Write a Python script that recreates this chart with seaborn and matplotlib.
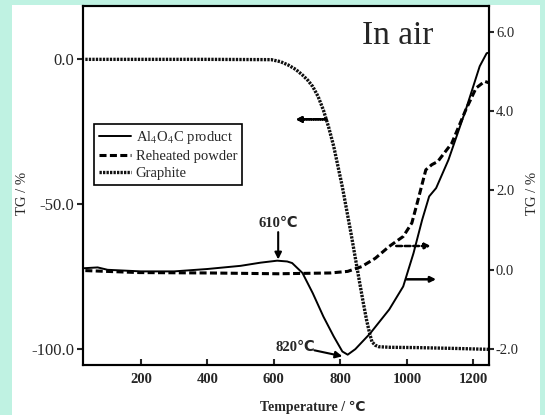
import matplotlib
matplotlib.use("Agg")
import matplotlib.pyplot as plt
import seaborn as sns
import pandas as pd
from matplotlib.patches import Rectangle
from matplotlib.ticker import FixedLocator, FixedFormatter

# ---------------- data ----------------
temp_graphite = [33, 200, 400, 592, 620, 644, 666, 686, 702, 717, 733, 749, 765, 780,
                 793, 806, 819, 832, 845, 858, 869, 879, 888, 895, 905, 916, 950, 1031, 1150, 1245]
tg_graphite = [0.0, 0.0, 0.0, -0.1, -0.8, -2.0, -3.5, -5.4, -7.2, -9.4, -12.8, -17.5, -23.5, -30.0,
               -37.0, -44.0, -52.0, -60.0, -68.5, -77.0, -84.0, -90.0, -94.5, -97.4, -98.6, -99.1, -99.3, -99.4, -99.7, -100.0]

temp_product = [30, 70, 100, 200, 300, 400, 500, 560, 610, 640, 655, 686, 717, 749, 780, 806, 822,
                845, 890, 947, 989, 1020, 1046, 1067, 1088, 1125, 1177, 1219, 1240, 1250]
tg_product = [0.04, 0.06, 0.0, -0.04, -0.04, 0.02, 0.1, 0.18, 0.23, 0.21, 0.17, -0.08, -0.59, -1.18, -1.68, -2.06, -2.14,
              -2.0, -1.6, -1.0, -0.42, 0.42, 1.26, 1.85, 2.06, 2.77, 4.03, 5.13, 5.46, 5.48]

temp_reheated = [33, 195, 404, 613, 770, 822, 864, 905, 947, 989, 1015, 1031, 1057, 1075, 1093,
                 1135, 1177, 1208, 1234, 1248]
tg_reheated = [-0.02, -0.07, -0.08, -0.1, -0.08, -0.04, 0.08, 0.29, 0.59, 0.84, 1.18, 1.68, 2.52, 2.65, 2.73,
               3.19, 4.03, 4.58, 4.75, 4.71]

x_ticks = [200, 400, 600, 800, 1000, 1200]
left_ticks = [0.0, -50.0, -100.0]
left_labels = ["0.0", "-50.0", "-100.0"]
right_ticks = [6.0, 4.0, 2.0, 0.0, -2.0]
right_labels = ["6.0", "4.0", "2.0", "0.0", "-2.0"]

series_names = [r"Al$_4$O$_4$C product", "Reheated powder", "Graphite"]

# ---------------- style ----------------
sns.set_style("ticks")
plt.rcParams["font.family"] = ["Liberation Serif", "DejaVu Sans"]
plt.rcParams["mathtext.fontset"] = "stix"
plt.rcParams["axes.unicode_minus"] = False

W, H = 545, 415
fig = plt.figure(figsize=(W / 100, H / 100), dpi=100, facecolor="#bff2e2")
fig.patches.append(Rectangle((12 / W, 0), (540 - 12) / W, (H - 5) / H, transform=fig.transFigure,
                             facecolor="white", edgecolor="none", zorder=-10))

L, R, B, T = 83, 489, 365, 6
ax = fig.add_axes([L / W, 1 - B / H, (R - L) / W, (B - T) / H])
ax.set_facecolor("white")
ax2 = ax.twinx()

df_g = pd.DataFrame({"T": temp_graphite, "TG": tg_graphite})
df_p = pd.DataFrame({"T": temp_product, "TG": tg_product})
df_r = pd.DataFrame({"T": temp_reheated, "TG": tg_reheated})

sns.lineplot(data=df_g, x="T", y="TG", ax=ax, color="#111111", lw=2.4,
             linestyle=(0, (0.7, 0.35)), label=series_names[2], legend=False, sort=False)
sns.lineplot(data=df_p, x="T", y="TG", ax=ax2, color="black", lw=1.4,
             label=series_names[0], legend=False, sort=False)
sns.lineplot(data=df_r, x="T", y="TG", ax=ax2, color="black", lw=2.2,
             linestyle=(0, (2.3, 1.1)), label=series_names[1], legend=False, sort=False)

ax.set_xlim(26, 1247)
ax.set_ylim(-105.4, 18.4)
ax2.set_ylim(-2.40, 6.65)

ax.xaxis.set_major_locator(FixedLocator(x_ticks))
ax.set_xticklabels([str(v) for v in x_ticks], fontsize=10.5, fontweight="bold")
ax.yaxis.set_major_locator(FixedLocator(left_ticks))
ax.yaxis.set_major_formatter(FixedFormatter(left_labels))
ax2.yaxis.set_major_locator(FixedLocator(right_ticks))
ax2.yaxis.set_major_formatter(FixedFormatter(right_labels))

ax.tick_params(axis="x", direction="in", length=4, width=1.5, pad=5.5, top=False)
ax.tick_params(axis="y", direction="out", length=4, width=1.5, pad=2.5, labelsize=12)
ax2.tick_params(axis="y", direction="out", length=3.5, width=1.5, pad=1.5, labelsize=10.5)
for a in (ax, ax2):
    for s in a.spines.values():
        s.set_linewidth(1.5)
        s.set_color("black")
        s.set_visible(True)
ax.set_xlabel("")
ax.set_ylabel("")
ax2.set_ylabel("")

fig.text(313 / W, 1 - 407 / H, "Temperature / ℃", ha="center", va="center",
         fontsize=10, fontweight="bold")
fig.text(22.6 / W, 1 - 193 / H, "TG / %", ha="center", va="center", rotation=90, fontsize=10.5)
fig.text(532 / W, 1 - 193 / H, "TG / %", ha="center", va="center", rotation=90, fontsize=10.5)

# legend
h1, l1 = ax2.get_legend_handles_labels()
h0, l0 = ax.get_legend_handles_labels()
leg = ax2.legend(h1 + h0, l1 + l0, loc="upper left", bbox_to_anchor=(0.027, 0.671),
                 fontsize=10.5, frameon=True, fancybox=False, edgecolor="black",
                 handlelength=2.2, handletextpad=0.3, borderpad=0.35, labelspacing=0.25,
                 borderaxespad=0)
leg.get_frame().set_linewidth(1.2)
leg.get_frame().set_facecolor("white")
leg.get_frame().set_alpha(1)

# annotations
ax2.text(973, 5.9, "In air", fontsize=24, ha="center", va="center")
ax2.text(613, 1.16, "610℃", ha="center", va="center", fontsize=10.5, fontweight="bold")
ax2.annotate("", xy=(613, 0.26), xytext=(613, 0.95),
             arrowprops=dict(arrowstyle="-|>", color="black", lw=1.5, mutation_scale=10,
                             shrinkA=0, shrinkB=0))
ax2.text(665, -1.97, "820℃", ha="center", va="center", fontsize=10.5, fontweight="bold")
ax2.annotate("", xy=(806, -2.18), xytext=(722, -2.03),
             arrowprops=dict(arrowstyle="-|>", color="black", lw=1.5, mutation_scale=10,
                             shrinkA=0, shrinkB=0))
ax.annotate("", xy=(665, -20.7), xytext=(759, -20.7),
            arrowprops=dict(arrowstyle="-|>", color="black", lw=1.8, linestyle=(0, (0.6, 0.3)),
                            mutation_scale=8, shrinkA=0, shrinkB=0))
ax2.annotate("", xy=(1072, 0.6), xytext=(968, 0.6),
             arrowprops=dict(arrowstyle="-|>", color="black", lw=1.8, linestyle=(0, (2.3, 1.1)),
                             mutation_scale=8, shrinkA=0, shrinkB=0))
ax2.annotate("", xy=(1088, -0.24), xytext=(999, -0.24),
             arrowprops=dict(arrowstyle="-|>", color="black", lw=1.8,
                             mutation_scale=8, shrinkA=0, shrinkB=0))

fig.savefig("out.png", dpi=100, facecolor=fig.get_facecolor())
